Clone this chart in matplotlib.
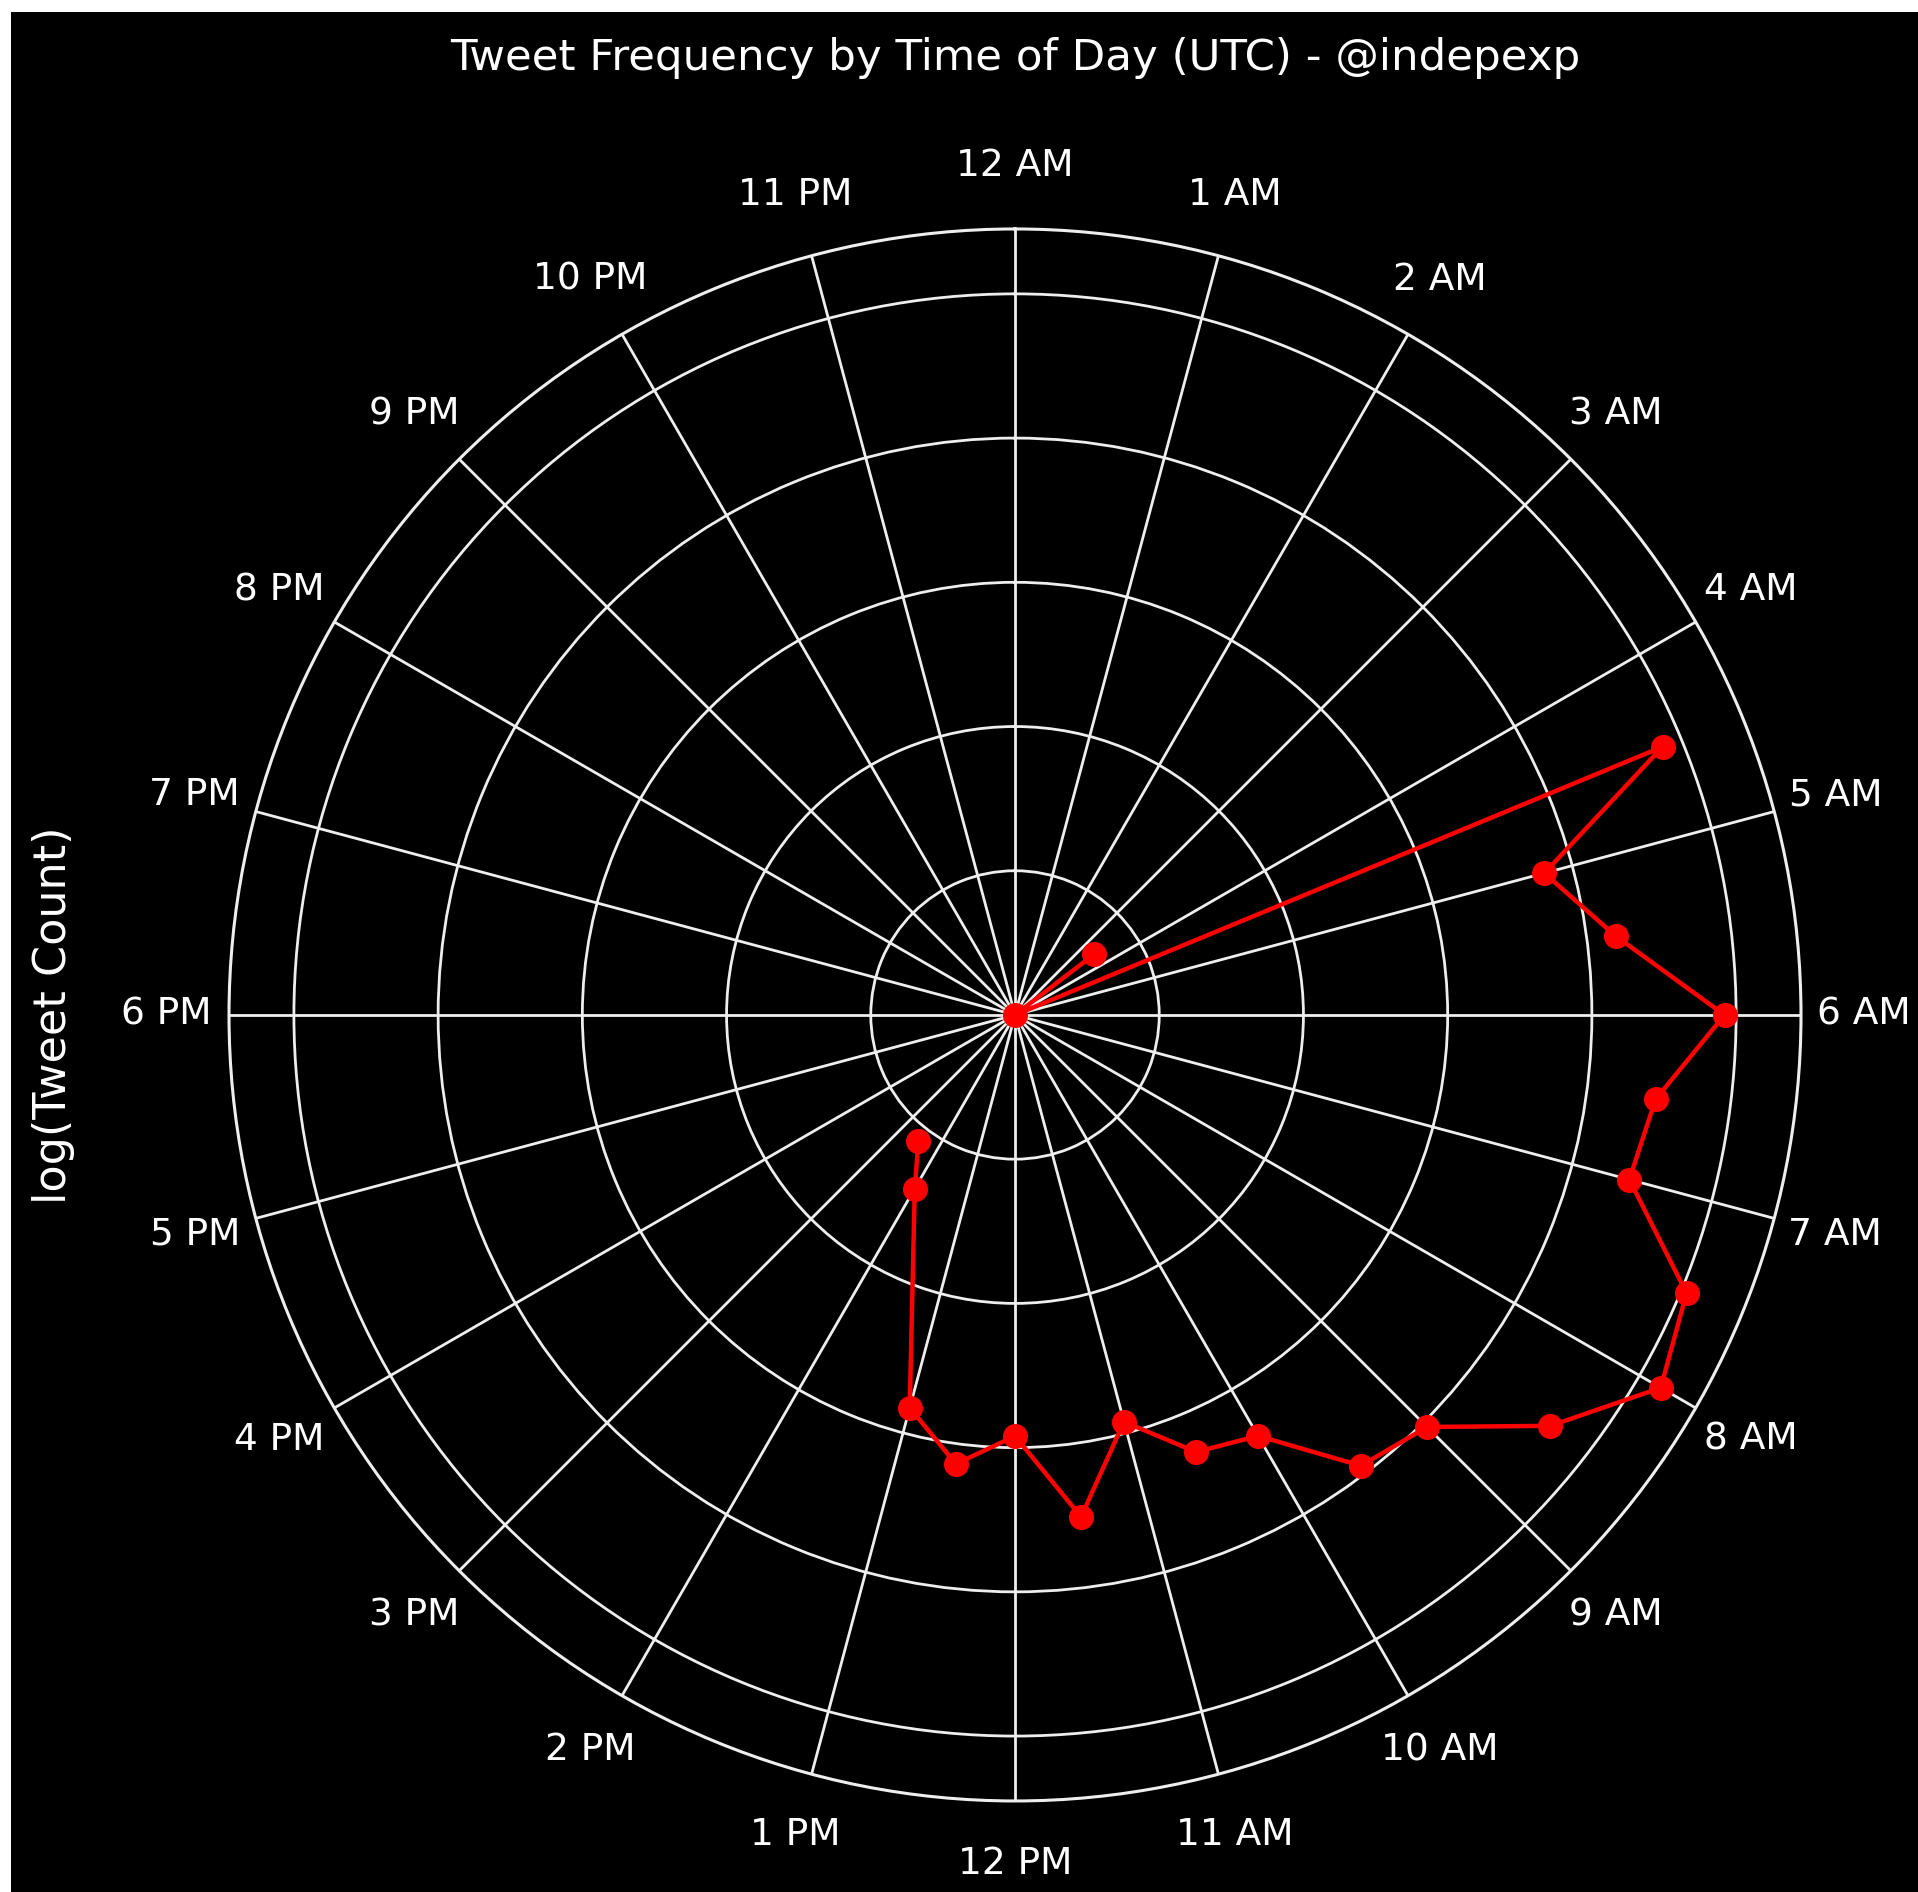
import numpy as np
import matplotlib

matplotlib.use("Agg")
import matplotlib.pyplot as plt
from matplotlib.patches import Rectangle

# half-hour bins (UTC) that had tweets, and the log of the tweet count in each
hours = [3.5, 4.0, 4.5, 5.0, 5.5, 6.0, 6.5, 7.0, 7.5, 8.0, 8.5,
         9.0, 9.5, 10.0, 10.5, 11.0, 11.5, 12.0, 12.5, 13.0, 14.0, 14.5]
log_counts = [0.69, 0.0, 4.86, 3.80, 4.20, 4.92, 4.48, 4.41, 5.04, 5.17, 4.68,
              4.04, 3.94, 3.37, 3.28, 2.92, 3.51, 2.92, 3.14, 2.82, 1.39, 1.10]

tick_hours = list(range(24))
hour_labels = ['12 AM', '1 AM', '2 AM', '3 AM', '4 AM', '5 AM', '6 AM', '7 AM',
               '8 AM', '9 AM', '10 AM', '11 AM', '12 PM', '1 PM', '2 PM', '3 PM',
               '4 PM', '5 PM', '6 PM', '7 PM', '8 PM', '9 PM', '10 PM', '11 PM']
r_ticks = [1, 2, 3, 4, 5]

theta = np.array(hours) / 24 * 2 * np.pi
tick_theta = np.array(tick_hours) / 24 * 2 * np.pi

plt.style.use('dark_background')
fig = plt.figure(figsize=(19.18, 18.92), dpi=100, facecolor='white')
# black canvas with a thin white strip on the top and left edges
fig.add_artist(Rectangle((11 / 1918, 0), 1, 1 - 12 / 1892, transform=fig.transFigure,
                         facecolor='black', edgecolor='none', zorder=-10))

ax = fig.add_axes([0.1194, 0.0481, 0.8196, 0.8309], projection='polar')
ax.set_facecolor('black')
ax.set_theta_zero_location('N')
ax.set_theta_direction(-1)

ax.plot(theta, log_counts, color='red', marker='o', linewidth=3.2, markersize=17)

ax.set_xticks(tick_theta)
ax.set_xticklabels(hour_labels, fontsize=27, color='white')
ax.tick_params(axis='x', pad=35)
ax.set_yticks(r_ticks)
ax.set_yticklabels([])
ax.set_ylim(0, 5.45)
ax.grid(True, color='#eeeeee', linewidth=2.0)
ax.spines['polar'].set_color('#eeeeee')
ax.spines['polar'].set_linewidth(2.2)

ax.set_ylabel('log(Tweet Count)', fontsize=32, color='white')
ax.yaxis.set_label_coords(-0.098, 0.5)
ax.set_title('Tweet Frequency by Time of Day (UTC) - @indepexp', fontsize=31.3,
             color='white', y=1.109, pad=0, va='center')

plt.savefig('out.png', dpi=100, facecolor=fig.get_facecolor())
plt.close()
